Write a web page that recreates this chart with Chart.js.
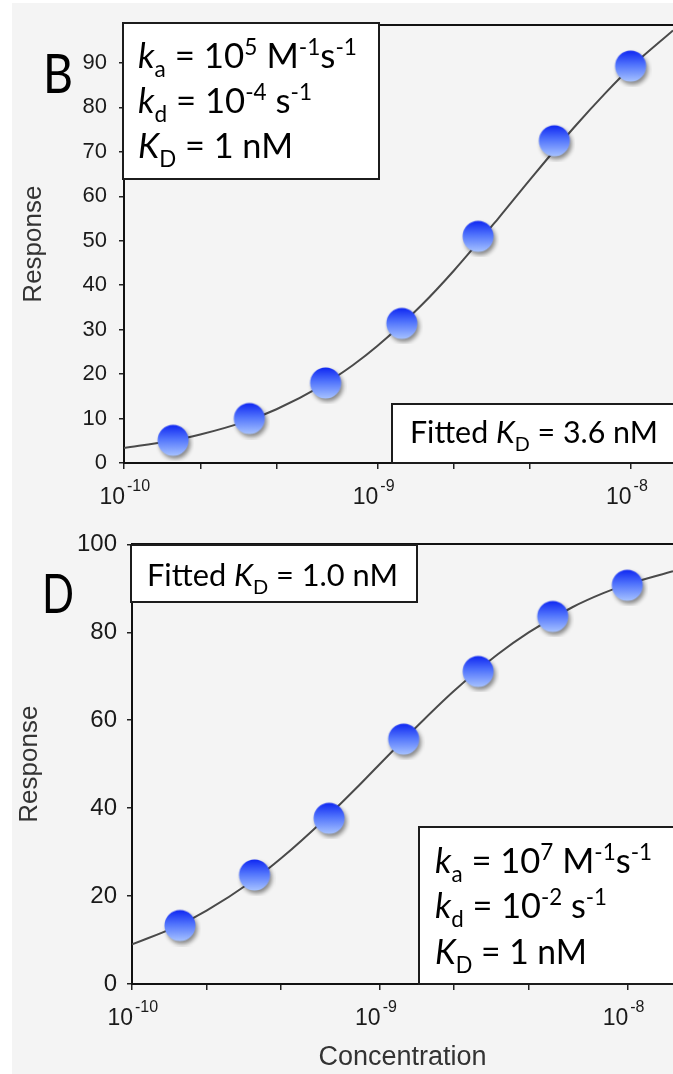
<!DOCTYPE html>
<html>
<head>
<meta charset="utf-8">
<script src="https://cdn.jsdelivr.net/npm/chart.js@4.4.1/dist/chart.umd.min.js"></script>
<style>
html, body { margin: 0; padding: 0; background: #fff; }
body { width: 673px; height: 1074px; position: relative; overflow: hidden; }
#bg { position: absolute; left: 12px; top: 3px; right: 0; bottom: 0; background: #f4f4f4; }
.wrap { position: absolute; left: 0; width: 673px; }
#wrapB { top: 0; height: 520px; }
#wrapD { top: 520px; height: 554px; }
</style>
</head>
<body>
<div id="bg"></div>
<div class="wrap" id="wrapB"><canvas id="chartB"></canvas></div>
<div class="wrap" id="wrapD"><canvas id="chartD"></canvas></div>
<script>
// measured points (2-fold dilution series, M)
var concentration = [1.5625e-10, 3.125e-10, 6.25e-10, 1.25e-9, 2.5e-9, 5e-9, 1e-8];
var responseB = [5.1, 10.0, 18.0, 31.4, 51.0, 72.5, 89.3];
var responseD = [13.3, 24.8, 37.7, 55.7, 71.1, 83.6, 90.7];

// fitted curves
var fitConcB = [1e-10, 1.5e-10, 2e-10, 3e-10, 4e-10, 6e-10, 8e-10, 1e-9, 1.5e-9, 2e-9, 3e-9, 4e-9, 6e-9, 8e-9, 1e-8, 1.47e-8];
var fitB = [3.4, 4.9, 6.4, 9.3, 12.1, 17.3, 22.0, 26.3, 35.6, 43.2, 55.0, 63.7, 75.6, 83.4, 89.0, 97.3];
var fitConcD = [1e-10, 1.5e-10, 2e-10, 3e-10, 4e-10, 6e-10, 8e-10, 1e-9, 1.5e-9, 2e-9, 3e-9, 4e-9, 6e-9, 8e-9, 1e-8, 1.53e-8];
var fitD = [9.0, 13.0, 16.7, 23.1, 28.6, 37.5, 44.4, 50.0, 60.0, 66.7, 75.0, 80.0, 85.7, 88.9, 90.9, 93.9];

// axes
var xTicks = [1e-10, 2e-10, 4e-10, 1e-9, 2e-9, 4e-9, 1e-8];
var xLabelExp = [-10, -9, -8];
var yTicksB = [0, 10, 20, 30, 40, 50, 60, 70, 80, 90];
var yTicksD = [0, 20, 40, 60, 80, 100];

Chart.defaults.font.family = "'Liberation Sans', Arial, sans-serif";
Chart.defaults.color = '#222';

function pairs(xs, ys) {
    return xs.map(function (x, i) { return { x: x, y: ys[i] }; });
}

function makeBall() {
    var c = document.createElement('canvas');
    c.width = 42; c.height = 42;
    var g = c.getContext('2d');
    g.shadowColor = 'rgba(0,0,0,0.45)';
    g.shadowBlur = 4;
    g.shadowOffsetX = 2;
    g.shadowOffsetY = 3;
    var grd = g.createLinearGradient(0, 5.5, 0, 36.5);
    grd.addColorStop(0, '#0f27f2');
    grd.addColorStop(0.45, '#5073fc');
    grd.addColorStop(1, '#a6c2ff');
    g.fillStyle = grd;
    g.beginPath();
    g.arc(21, 21, 15.5, 0, Math.PI * 2);
    g.fill();
    return c;
}
var ball = makeBall();

// rich text: segments {t, it, sub, sup}; squeezed to a target width
function drawRich(ctx, segs, x, y, size, width) {
    var parts = segs.map(function (s) {
        var fs = (s.sub || s.sup) ? size * 0.65 : size;
        var font = (s.it ? 'italic ' : '') + fs + "px Lato, 'Open Sans', sans-serif";
        ctx.font = font;
        return { t: s.t, font: font, w: ctx.measureText(s.t).width,
                 dy: s.sub ? size * 0.27 : (s.sup ? -size * 0.37 : 0) };
    });
    var total = parts.reduce(function (a, p) { return a + p.w; }, 0);
    var sx = width ? width / total : 1;
    ctx.save();
    ctx.translate(x, y);
    ctx.scale(sx, 1);
    ctx.fillStyle = '#000';
    ctx.textBaseline = 'alphabetic';
    ctx.textAlign = 'left';
    var cx = 0;
    parts.forEach(function (p) {
        ctx.font = p.font;
        ctx.fillText(p.t, cx, p.dy);
        cx += p.w;
    });
    ctx.restore();
}

function S(t) { return { t: t }; }
function IT(t) { return { t: t, it: true }; }
function SUB(t) { return { t: t, sub: true }; }
function SUP(t) { return { t: t, sup: true }; }

function annotPlugin(cfg) {
    return {
        id: 'annot',
        afterDraw: function (chart) {
            var ctx = chart.ctx;
            var xs = chart.scales.x;
            var area = chart.chartArea;
            // x tick labels 10^n
            ctx.save();
            ctx.fillStyle = '#1a1a1a';
            ctx.textBaseline = 'alphabetic';
            xLabelExp.forEach(function (e) {
                var px = xs.getPixelForValue(Math.pow(10, e));
                ctx.font = "23px 'Liberation Sans', Arial";
                ctx.textAlign = 'right';
                ctx.fillText('10', px + 1, area.bottom + 41);
                ctx.font = "16px 'Liberation Sans', Arial";
                ctx.textAlign = 'left';
                ctx.fillText(String(e), px + 3, area.bottom + 28);
            });
            ctx.restore();
            // boxes
            cfg.boxes.forEach(function (b) {
                ctx.save();
                ctx.fillStyle = '#fff';
                ctx.strokeStyle = '#1c1c1c';
                ctx.lineWidth = 2;
                ctx.fillRect(b.x, b.y, b.w, b.h);
                ctx.strokeRect(b.x, b.y, b.w, b.h);
                ctx.restore();
                b.lines.forEach(function (ln, i) {
                    drawRich(ctx, ln, b.tx, b.base[i], b.size, b.widths[i]);
                });
            });
            drawRich(ctx, [S(cfg.letter.t)], cfg.letter.x, cfg.letter.y, 54, cfg.letter.w);
        }
    };
}

var paramLinesB = [
    [IT('k'), SUB('a'), S(' = 10'), SUP('5'), S(' M'), SUP('-1'), S('s'), SUP('-1')],
    [IT('k'), SUB('d'), S(' = 10'), SUP('-4'), S(' s'), SUP('-1')],
    [IT('K'), SUB('D'), S(' = 1 nM')]
];
var paramLinesD = [
    [IT('k'), SUB('a'), S(' = 10'), SUP('7'), S(' M'), SUP('-1'), S('s'), SUP('-1')],
    [IT('k'), SUB('d'), S(' = 10'), SUP('-2'), S(' s'), SUP('-1')],
    [IT('K'), SUB('D'), S(' = 1 nM')]
];

function makeChart(id, o) {
    return new Chart(document.getElementById(id), {
        type: 'scatter',
        data: {
            datasets: [
                {
                    data: pairs(concentration, o.points),
                    pointStyle: ball,
                    pointRadius: 15,
                    pointHoverRadius: 15,
                    order: 0
                },
                {
                    data: pairs(o.fitX, o.fitY),
                    showLine: true,
                    borderColor: '#4a4a4a',
                    borderWidth: 2,
                    pointRadius: 0,
                    cubicInterpolationMode: 'monotone',
                    order: 1
                }
            ]
        },
        options: {
            responsive: true,
            maintainAspectRatio: false,
            animation: false,
            devicePixelRatio: 1,
            layout: { autoPadding: false, padding: { left: 12, top: o.top, right: 0, bottom: 0 } },
            plugins: { legend: { display: false }, tooltip: { enabled: false } },
            scales: {
                x: {
                    type: 'logarithmic',
                    min: 1e-10,
                    max: o.xMax,
                    afterBuildTicks: function (s) { s.ticks = xTicks.map(function (v) { return { value: v }; }); },
                    afterFit: function (s) { s.height = o.xHeight; },
                    ticks: { display: false },
                    grid: { drawOnChartArea: false, drawTicks: true, tickLength: 6, color: '#222', lineWidth: 1.5 },
                    border: { display: true, color: '#111', width: 2 },
                    title: {
                        display: !!o.xTitle,
                        text: o.xTitle || '',
                        color: '#333',
                        font: { size: 27 },
                        padding: { top: 0, bottom: 0 }
                    }
                },
                x2: {
                    type: 'linear',
                    position: 'top',
                    min: 0, max: 1,
                    afterFit: function (s) { s.height = 0; },
                    ticks: { display: false },
                    grid: { display: false, drawTicks: false },
                    border: { display: true, color: '#111', width: 2 }
                },
                y: {
                    min: 0,
                    max: o.yMax,
                    afterBuildTicks: function (s) { s.ticks = o.yTicks.map(function (v) { return { value: v }; }); },
                    afterFit: function (s) { s.width = o.yWidth; },
                    ticks: { font: { size: o.yFont }, color: '#1a1a1a', padding: o.yPad },
                    grid: { drawOnChartArea: false, drawTicks: true, tickLength: 5, color: '#222', lineWidth: 1.5 },
                    border: { display: true, color: '#111', width: 2 },
                    title: {
                        display: true,
                        text: 'Response',
                        color: '#333',
                        font: { size: 26 },
                        padding: { top: o.yTitlePad, bottom: 0 }
                    }
                }
            }
        },
        plugins: [annotPlugin(o.annot)]
    });
}

makeChart('chartB', {
    points: responseB, fitX: fitConcB, fitY: fitB,
    top: 23, xMax: 1.47e-8, yMax: 98.5, yTicks: yTicksB,
    xHeight: 57, yWidth: 112, yFont: 22, yPad: 12, yTitlePad: 6,
    annot: {
        letter: { t: 'B', x: 43, y: 93, w: 30 },
        boxes: [
            { x: 123, y: 23, w: 256, h: 156, tx: 138, size: 34,
              base: [68, 113, 158], widths: [219, 174, 155], lines: paramLinesB },
            { x: 392, y: 404, w: 290, h: 59, tx: 410, size: 30,
              base: [443], widths: [248],
              lines: [[S('Fitted '), IT('K'), SUB('D'), S(' = 3.6 nM')]] }
        ]
    }
});

makeChart('chartD', {
    points: responseD, fitX: fitConcD, fitY: fitD,
    top: 24, xMax: 1.53e-8, yMax: 100, yTicks: yTicksD,
    xHeight: 90, yWidth: 120, yFont: 24, yPad: 10, yTitlePad: 2,
    xTitle: 'Concentration',
    annot: {
        letter: { t: 'D', x: 42, y: 93, w: 32 },
        boxes: [
            { x: 131, y: 25, w: 286, h: 57, tx: 147, size: 30,
              base: [66], widths: [251],
              lines: [[S('Fitted '), IT('K'), SUB('D'), S(' = 1.0 nM')]] },
            { x: 419, y: 307, w: 260, h: 157, tx: 435, size: 34,
              base: [353, 398, 444], widths: [217, 172, 152], lines: paramLinesD }
        ]
    }
});
</script>
</body>
</html>
